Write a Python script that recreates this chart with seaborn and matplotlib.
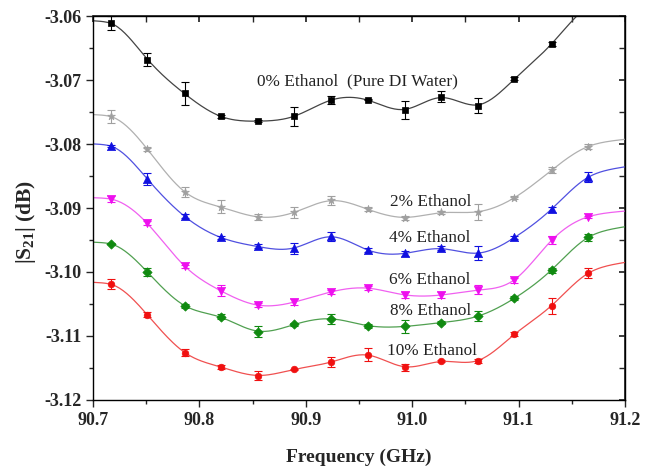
import numpy as np
import pandas as pd
import matplotlib
matplotlib.use("Agg")
import matplotlib.pyplot as plt
import seaborn as sns

# frequency points (GHz)
freq = [90.717, 90.751, 90.786, 90.820, 90.855, 90.889, 90.924, 90.958,
        90.993, 91.027, 91.062, 91.096, 91.131, 91.165]

# |S21| (dB) per ethanol concentration
s21_0 = [-3.0611, -3.0668, -3.0721, -3.0757, -3.0764, -3.0757, -3.0731,
         -3.0731, -3.0747, -3.0726, -3.0740, -3.0698, -3.0644, -3.0585]
s21_2 = [-3.0757, -3.0808, -3.0875, -3.0898, -3.0914, -3.0907, -3.0888,
         -3.0902, -3.0915, -3.0907, -3.0906, -3.0884, -3.0841, -3.0804]
s21_4 = [-3.0803, -3.0855, -3.0913, -3.0946, -3.0960, -3.0963, -3.0944,
         -3.0966, -3.0971, -3.0963, -3.0971, -3.0946, -3.0902, -3.0852]
s21_6 = [-3.0886, -3.0924, -3.0991, -3.1029, -3.1052, -3.1047, -3.1031,
         -3.1025, -3.1036, -3.1036, -3.1028, -3.1013, -3.0950, -3.0914]
s21_8 = [-3.0956, -3.1000, -3.1053, -3.1070, -3.1093, -3.1082, -3.1073,
         -3.1084, -3.1085, -3.1079, -3.1069, -3.1041, -3.0997, -3.0946]
s21_10 = [-3.1019, -3.1067, -3.1126, -3.1148, -3.1162, -3.1152, -3.1141,
          -3.1129, -3.1149, -3.1139, -3.1139, -3.1097, -3.1053, -3.1002]

# error bar half-widths (dB)
err_0 = [0.0011, 0.0010, 0.0018, 0.0003, 0.0001, 0.0015, 0.0006,
         0.0001, 0.0014, 0.0009, 0.0012, 0.0002, 0.0003, 0.0003]
err_2 = [0.0010, 0.0003, 0.0008, 0.0010, 0.0005, 0.0009, 0.0007,
         0.0003, 0.0003, 0.0003, 0.0013, 0.0002, 0.0005, 0.0004]
err_4 = [0.0002, 0.0009, 0.0003, 0.0003, 0.0003, 0.0009, 0.0007,
         0.0003, 0.0004, 0.0003, 0.0011, 0.0002, 0.0004, 0.0008]
err_6 = [0.0004, 0.0003, 0.0002, 0.0009, 0.0003, 0.0005, 0.0003,
         0.0003, 0.0005, 0.0005, 0.0007, 0.0004, 0.0006, 0.0002]
err_8 = [0.0001, 0.0006, 0.0003, 0.0004, 0.0009, 0.0003, 0.0008,
         0.0003, 0.0010, 0.0002, 0.0008, 0.0003, 0.0004, 0.0006]
err_10 = [0.0008, 0.0004, 0.0006, 0.0003, 0.0007, 0.0001, 0.0008,
          0.0010, 0.0006, 0.0002, 0.0003, 0.0003, 0.0012, 0.0008]

labels = ["0% Ethanol  (Pure DI Water)", "2% Ethanol", "4% Ethanol",
          "6% Ethanol", "8% Ethanol", "10% Ethanol"]
label_x = [90.854, 90.979, 90.978, 90.978, 90.979, 90.976]
label_y = [-3.0702, -3.0890, -3.0947, -3.1013, -3.1061, -3.1124]
colors = ["black", "#a0a0a0", "#1010e0", "#ee10ee", "#108a10", "#f01010"]
line_colors = ["#444444", "#b0b0b0", "#5050e0", "#f060f0", "#50a050", "#f05050"]
markers = ["s", "*", "^", "v", "D", "o"]
msizes = [4, 5, 5, 5, 4, 4]

series = [s21_0, s21_2, s21_4, s21_6, s21_8, s21_10]
errors = [err_0, err_2, err_4, err_6, err_8, err_10]


def smooth_curve(xd, yd, grid, lam2=35.0, lam_left=2.0, lam_right=0.3):
    # penalised least squares on a fine grid (smoothing-spline like),
    # flattening outside the measured range
    n = len(grid)
    W = np.zeros((len(xd), n))
    for k, xv in enumerate(xd):
        j = np.searchsorted(grid, xv) - 1
        t = (xv - grid[j]) / (grid[j + 1] - grid[j])
        W[k, j] = 1 - t
        W[k, j + 1] = t
    D2 = np.diff(np.eye(n), 2, axis=0)
    D1 = np.diff(np.eye(n), 1, axis=0)
    out = lam_left * (grid[:-1] < xd[0]) + lam_right * (grid[1:] > xd[-1])
    A = W.T @ W + lam2 * D2.T @ D2 + D1.T @ (out[:, None] * D1)
    return np.linalg.solve(A, W.T @ yd)


sns.set_theme(style="ticks")
plt.rcParams['font.family'] = ['Liberation Serif', 'DejaVu Serif']
plt.rcParams['mathtext.fontset'] = 'custom'
plt.rcParams['mathtext.rm'] = 'Liberation Serif'
plt.rcParams['mathtext.bf'] = 'Liberation Serif:bold'

fig = plt.figure(figsize=(6.46, 4.67), dpi=100)
ax = fig.add_axes([0.144, 0.1435, 0.8235, 0.8222])

x = np.array(freq)
grid = np.linspace(90.7, 91.2, 301)

for i, (y, e) in enumerate(zip(series, errors)):
    fit = pd.DataFrame({"f": grid, "s": smooth_curve(x, np.array(y), grid)})
    sns.lineplot(data=fit, x="f", y="s", ax=ax, color=line_colors[i], lw=0.9)
    pts = pd.DataFrame({"f": freq, "s": y})
    ax.errorbar(freq, y, yerr=e, fmt="none", ecolor=colors[i], elinewidth=0.8,
                capsize=3, capthick=0.8)
    sns.scatterplot(data=pts, x="f", y="s", ax=ax, color=colors[i],
                    marker=markers[i], s=msizes[i] ** 2 * 1.4, edgecolor=colors[i],
                    linewidth=0.5, zorder=5)
    ax.text(label_x[i], label_y[i], labels[i], fontsize=12.4,
            ha="left", va="center", color="#222222")

ax.set_xlim(90.7, 91.2)
ax.set_ylim(-3.12, -3.06)
ax.set_xticks(np.arange(90.7, 91.21, 0.1))
ax.set_xticklabels(["90.7", "90.8", "90.9", "91.0", "91.1", "91.2"])
ax.set_xticks(np.arange(90.75, 91.2, 0.1), minor=True)
ax.set_yticks(np.arange(-3.12, -3.059, 0.01))
ax.set_yticklabels(["-3.12", "-3.11", "-3.10", "-3.09", "-3.08", "-3.07", "-3.06"])
ax.set_yticks(np.arange(-3.115, -3.06, 0.01), minor=True)
ax.tick_params(which="both", direction="out", width=1.0, labelsize=13)
ax.tick_params(which="major", length=5)
ax.tick_params(which="minor", length=3)
for lab in ax.get_xticklabels() + ax.get_yticklabels():
    lab.set_fontweight("bold")

# mirrored inward ticks on top and right
top = ax.secondary_xaxis("top")
top.set_xticks(np.arange(90.7, 91.21, 0.1))
top.set_xticks(np.arange(90.75, 91.2, 0.1), minor=True)
top.tick_params(which="both", direction="in", labeltop=False, length=4)
right = ax.secondary_yaxis("right")
right.set_yticks(np.arange(-3.12, -3.059, 0.01))
right.set_yticks(np.arange(-3.115, -3.06, 0.01), minor=True)
right.tick_params(which="both", direction="in", labelright=False, length=4)

for sp in ax.spines.values():
    sp.set_linewidth(1.0)
    sp.set_color("black")

ax.set_xlabel("Frequency (GHz)", fontsize=14, fontweight="bold", labelpad=14)
ax.set_ylabel(r"$\mathbf{|S_{21}|}$ (dB)", fontsize=15.5, fontweight="bold")
ax.yaxis.set_label_coords(-0.104, 0.464)

fig.savefig("out.png", dpi=100)
